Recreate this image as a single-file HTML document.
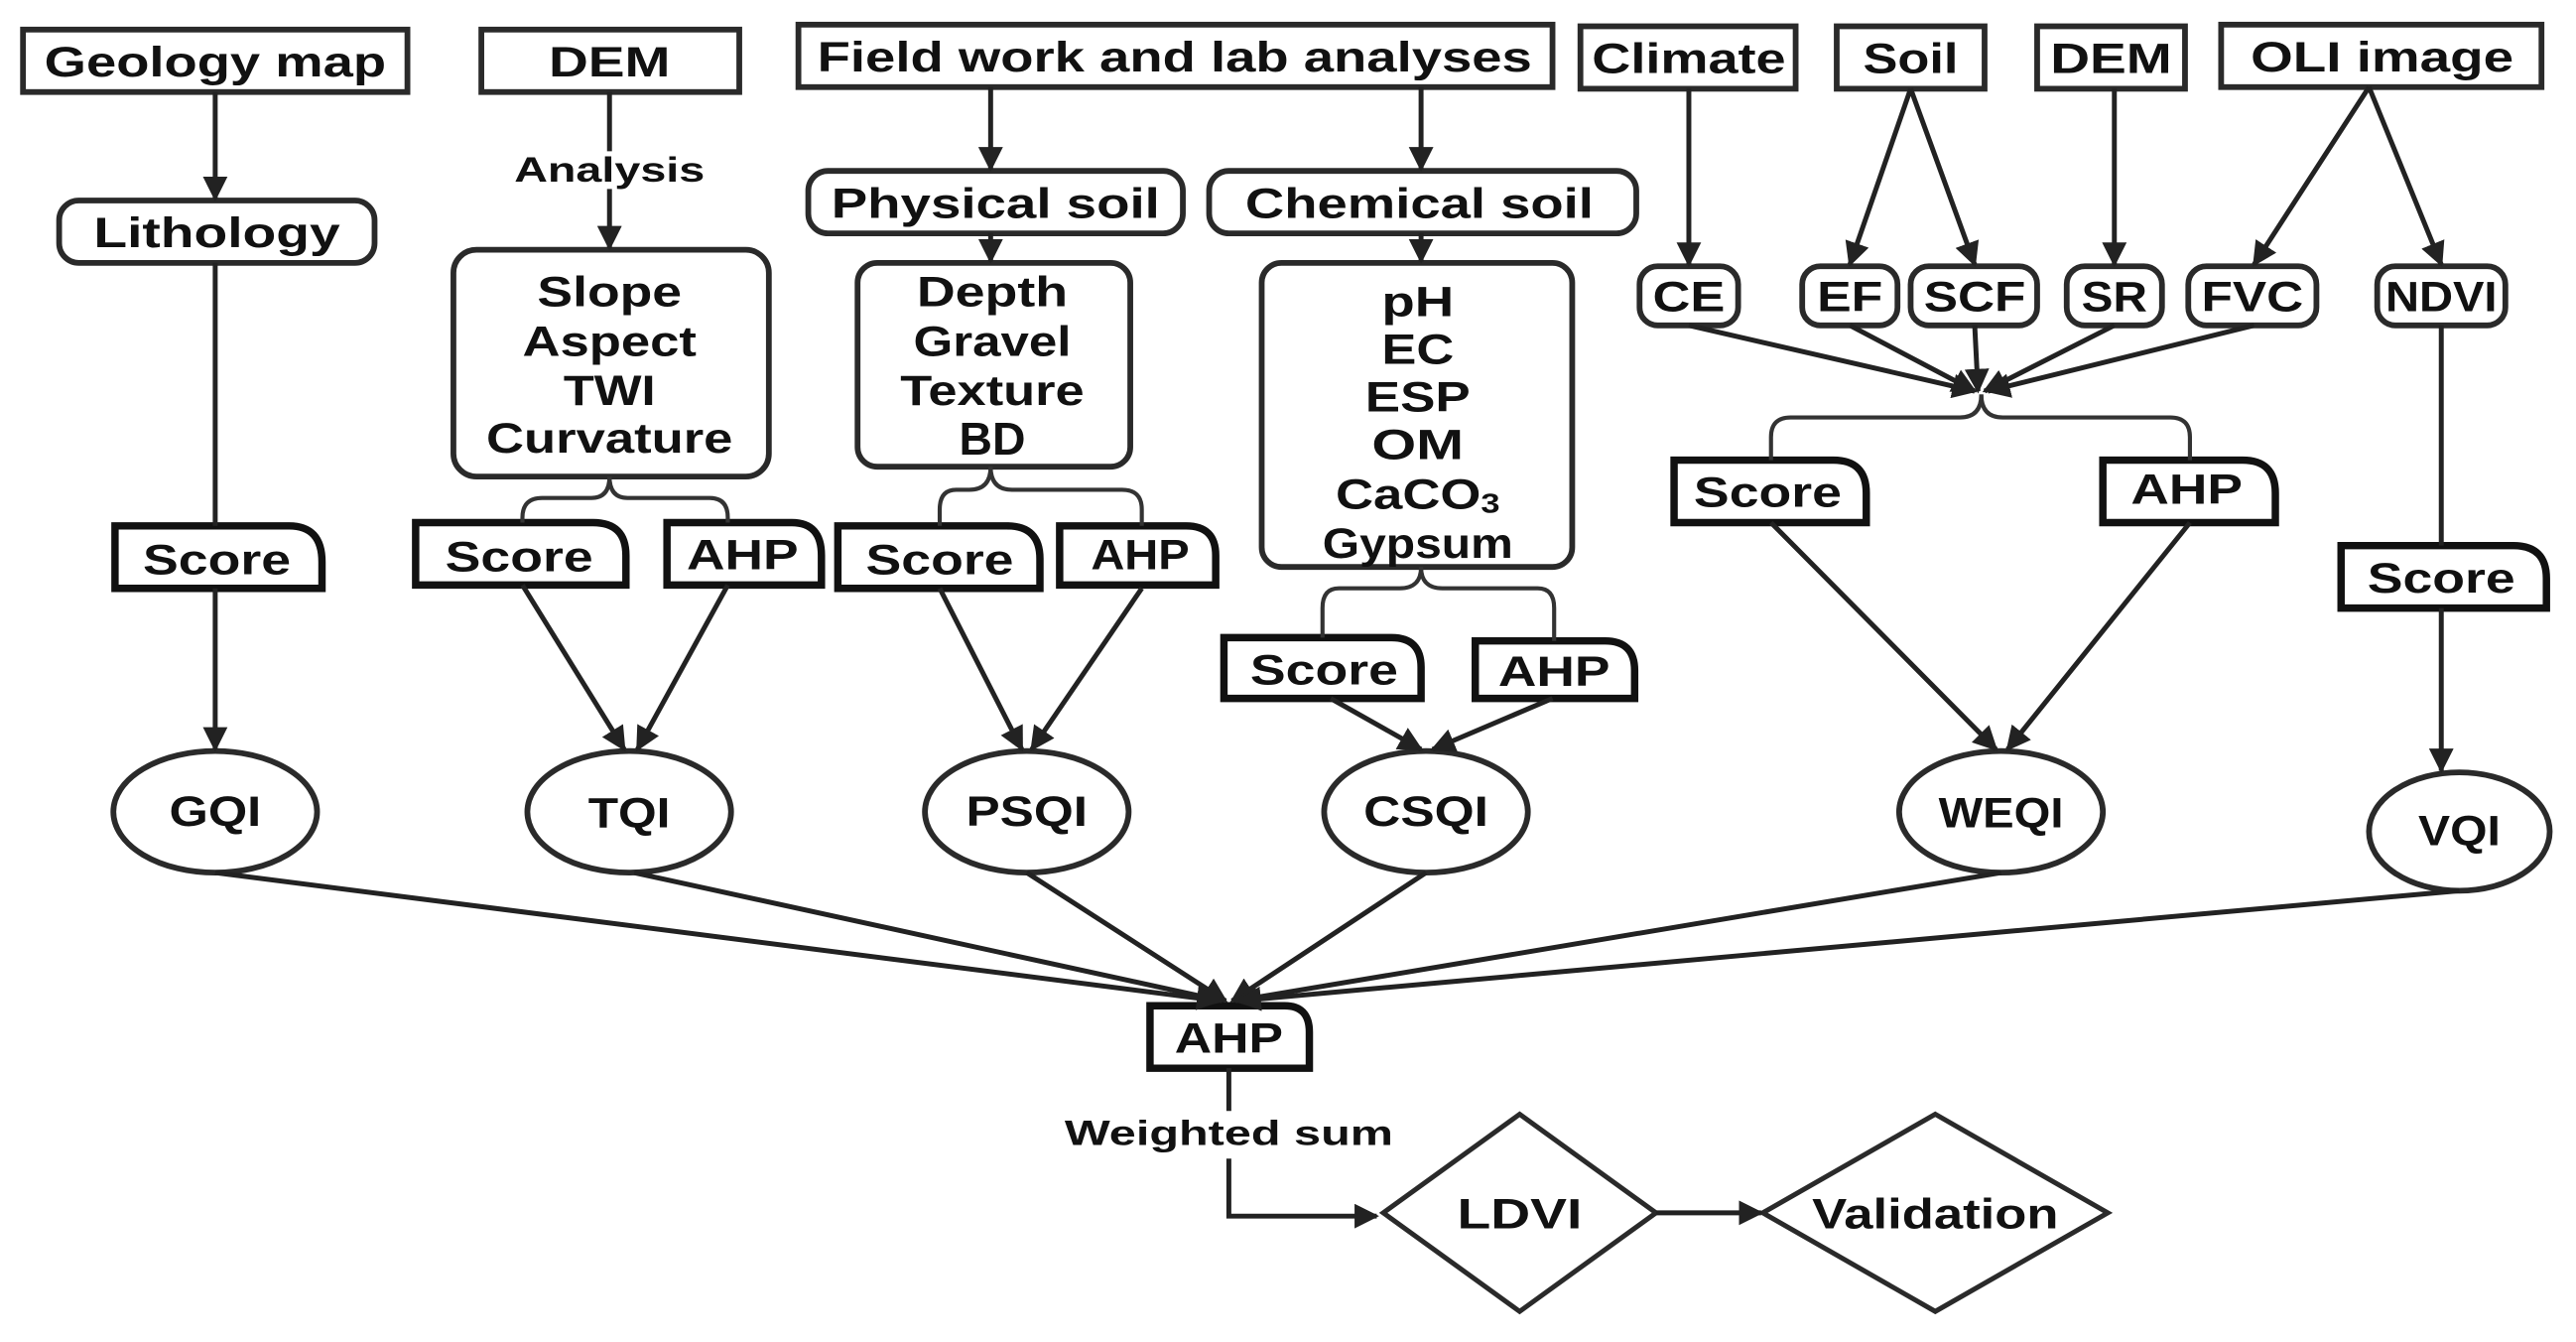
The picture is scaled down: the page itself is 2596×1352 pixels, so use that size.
<!DOCTYPE html>
<html><head><meta charset="utf-8"><style>
html,body{margin:0;padding:0;background:#fff;}
svg{display:block;}
text{font-family:"Liberation Sans",Arial,sans-serif;font-weight:bold;fill:#111;text-anchor:middle;dominant-baseline:central;}
</style></head><body>
<svg width="2596" height="1352" viewBox="0 0 1568 816.6" preserveAspectRatio="none" xmlns="http://www.w3.org/2000/svg">
<defs>
<marker id="a" viewBox="0 0 10 10" refX="9" refY="5" markerWidth="5" markerHeight="5" orient="auto" markerUnits="strokeWidth"><path d="M0,0L10,5L0,10z" fill="#222"/></marker>
</defs>
<g fill="none" stroke="#2a2a2a" stroke-width="3.5">
<rect x="14" y="18" width="234" height="38"/>
<rect x="293" y="18" width="157" height="38"/>
<rect x="486" y="15" width="459" height="38"/>
<rect x="962" y="16" width="131" height="38"/>
<rect x="1118" y="16" width="90" height="38"/>
<rect x="1240" y="16" width="90" height="38"/>
<rect x="1352" y="15" width="195" height="38"/>
<rect x="36" y="122" width="192" height="38" rx="12"/>
<rect x="276" y="152" width="192" height="138" rx="14"/>
<rect x="492" y="104" width="228" height="38" rx="12"/>
<rect x="736" y="104" width="260" height="38" rx="12"/>
<rect x="522" y="160" width="166" height="124" rx="12"/>
<rect x="768" y="160" width="189" height="185" rx="12"/>
<rect x="998" y="162" width="60" height="36" rx="11"/>
<rect x="1097" y="162" width="58" height="36" rx="11"/>
<rect x="1163" y="162" width="77" height="36" rx="11"/>
<rect x="1258" y="162" width="58" height="36" rx="11"/>
<rect x="1332" y="162" width="78" height="36" rx="11"/>
<rect x="1447" y="162" width="78" height="36" rx="11"/>
<ellipse cx="131" cy="494" rx="62" ry="37"/>
<ellipse cx="383" cy="494" rx="62" ry="37"/>
<ellipse cx="625" cy="494" rx="62" ry="37"/>
<ellipse cx="868" cy="494" rx="62" ry="37"/>
<ellipse cx="1218" cy="494" rx="62" ry="37"/>
<ellipse cx="1497" cy="506" rx="55" ry="36"/>
<path d="M925,678L1008,738L925,798L842,738Z" stroke-width="3"/>
<path d="M1178,678L1283,738L1178,798L1073,738Z" stroke-width="3"/>
</g>
<g fill="#fff" stroke="#111" stroke-width="4.5">
<path d="M70,320H176Q196,320 196,342V358H70Z"/>
<path d="M253,318H361Q381,318 381,338V356H253Z"/>
<path d="M406,318H482Q500,318 500,338V356H406Z"/>
<path d="M510,320H613Q633,320 633,340V358H510Z"/>
<path d="M645,320H722Q740,320 740,338V356H645Z"/>
<path d="M745,388H847Q865,388 865,406V425H745Z"/>
<path d="M898,390H977Q995,390 995,408V425H898Z"/>
<path d="M1019,280H1116Q1136,280 1136,300V318H1019Z"/>
<path d="M1280,280H1365Q1385,280 1385,300V318H1280Z"/>
<path d="M1425,332H1530Q1550,332 1550,352V370H1425Z"/>
<path d="M700,612H782Q797,612 797,628V650H700Z"/>
</g>
<g fill="none" stroke="#222" stroke-width="3" marker-end="url(#a)">
<line x1="131" y1="56" x2="131" y2="121"/>
<line x1="371" y1="115" x2="371" y2="151"/>
<line x1="603" y1="53" x2="603" y2="103"/>
<line x1="865" y1="53" x2="865" y2="103"/>
<line x1="603" y1="142" x2="603" y2="159"/>
<line x1="865" y1="142" x2="865" y2="159"/>
<line x1="1028" y1="54" x2="1028" y2="161"/>
<line x1="1163" y1="54" x2="1126" y2="161"/>
<line x1="1163" y1="54" x2="1202" y2="161"/>
<line x1="1287" y1="54" x2="1287" y2="161"/>
<line x1="1442" y1="53" x2="1372" y2="161"/>
<line x1="1442" y1="53" x2="1486" y2="161"/>
<line x1="1028" y1="198" x2="1202" y2="238"/>
<line x1="1126" y1="198" x2="1202" y2="238"/>
<line x1="1202" y1="198" x2="1204" y2="238"/>
<line x1="1287" y1="198" x2="1208" y2="238"/>
<line x1="1372" y1="198" x2="1210" y2="238"/>
<line x1="131" y1="358" x2="131" y2="456"/>
<line x1="318" y1="356" x2="380" y2="456"/>
<line x1="443" y1="356" x2="388" y2="456"/>
<line x1="572" y1="358" x2="622" y2="456"/>
<line x1="695" y1="358" x2="628" y2="456"/>
<line x1="810" y1="425" x2="865" y2="456"/>
<line x1="945" y1="425" x2="872" y2="456"/>
<line x1="1078" y1="318" x2="1215" y2="456"/>
<line x1="1333" y1="318" x2="1222" y2="456"/>
<line x1="1486" y1="370" x2="1486" y2="469"/>
<line x1="131" y1="531" x2="742" y2="609"/>
<line x1="386" y1="531" x2="744" y2="609"/>
<line x1="625" y1="531" x2="746" y2="609"/>
<line x1="868" y1="531" x2="750" y2="609"/>
<line x1="1218" y1="531" x2="752" y2="609"/>
<line x1="1497" y1="542" x2="754" y2="609"/>
<polyline points="748,705 748,740 838,740"/>
<line x1="1008" y1="738" x2="1072" y2="738"/>
</g>
<g fill="none" stroke="#222" stroke-width="3">
<line x1="371" y1="56" x2="371" y2="92"/>
<line x1="131" y1="160" x2="131" y2="320"/>
<line x1="1486" y1="198" x2="1486" y2="332"/>
<line x1="748" y1="650" x2="748" y2="676"/>
</g>
<g fill="none" stroke="#333" stroke-width="2.5">
<path d="M371,290Q371,303 360,303H330Q318,303 318,315V318"/>
<path d="M371,290Q371,303 382,303H432Q443,303 443,315V318"/>
<path d="M603,284Q603,298 590,298H582Q572,298 572,310V320"/>
<path d="M603,284Q603,298 616,298H683Q695,298 695,310V320"/>
<path d="M865,345Q865,358 852,358H815Q805,358 805,370V388"/>
<path d="M865,345Q865,358 878,358H936Q946,358 946,370V390"/>
<path d="M1206,240Q1206,254 1193,254H1090Q1078,254 1078,266V280"/>
<path d="M1206,240Q1206,254 1219,254H1321Q1333,254 1333,266V280"/>
</g>
<g font-size="26">
<text x="131" y="38" textLength="208" lengthAdjust="spacingAndGlyphs">Geology map</text>
<text x="371" y="38" textLength="74" lengthAdjust="spacingAndGlyphs">DEM</text>
<text x="715" y="35" textLength="435" lengthAdjust="spacingAndGlyphs">Field work and lab analyses</text>
<text x="1028" y="36" textLength="118" lengthAdjust="spacingAndGlyphs">Climate</text>
<text x="1163" y="36" textLength="58" lengthAdjust="spacingAndGlyphs">Soil</text>
<text x="1285" y="36" textLength="74" lengthAdjust="spacingAndGlyphs">DEM</text>
<text x="1450" y="35" textLength="160" lengthAdjust="spacingAndGlyphs">OLI image</text>
<text x="132" y="142" textLength="150" lengthAdjust="spacingAndGlyphs">Lithology</text>
<text x="606" y="124" textLength="200" lengthAdjust="spacingAndGlyphs">Physical soil</text>
<text x="864" y="124" textLength="212" lengthAdjust="spacingAndGlyphs">Chemical soil</text>
<text x="371" y="178" textLength="88" lengthAdjust="spacingAndGlyphs">Slope</text>
<text x="371" y="208" textLength="106" lengthAdjust="spacingAndGlyphs">Aspect</text>
<text x="371" y="238" textLength="56" lengthAdjust="spacingAndGlyphs">TWI</text>
<text x="371" y="267" textLength="150" lengthAdjust="spacingAndGlyphs">Curvature</text>
<text x="604" y="178" textLength="92" lengthAdjust="spacingAndGlyphs">Depth</text>
<text x="604" y="208" textLength="96" lengthAdjust="spacingAndGlyphs">Gravel</text>
<text x="604" y="238" textLength="112" lengthAdjust="spacingAndGlyphs">Texture</text>
<text x="604" y="267" font-size="28">BD</text>
<text x="863" y="184" textLength="44" lengthAdjust="spacingAndGlyphs">pH</text>
<text x="863" y="213" textLength="44" lengthAdjust="spacingAndGlyphs">EC</text>
<text x="863" y="242" textLength="64" lengthAdjust="spacingAndGlyphs">ESP</text>
<text x="863" y="271" textLength="56" lengthAdjust="spacingAndGlyphs">OM</text>
<text x="863" y="301" textLength="100" lengthAdjust="spacingAndGlyphs">CaCO<tspan font-size="17" dy="5">3</tspan></text>
<text x="863" y="331" textLength="116" lengthAdjust="spacingAndGlyphs">Gypsum</text>
<text x="1028" y="181" textLength="44" lengthAdjust="spacingAndGlyphs">CE</text>
<text x="1126" y="181" textLength="40" lengthAdjust="spacingAndGlyphs">EF</text>
<text x="1202" y="181" textLength="62" lengthAdjust="spacingAndGlyphs">SCF</text>
<text x="1287" y="181" textLength="40" lengthAdjust="spacingAndGlyphs">SR</text>
<text x="1371" y="181" textLength="62" lengthAdjust="spacingAndGlyphs">FVC</text>
<text x="1486" y="181" textLength="68" lengthAdjust="spacingAndGlyphs">NDVI</text>
<text x="132" y="341" textLength="90" lengthAdjust="spacingAndGlyphs">Score</text>
<text x="316" y="339" textLength="90" lengthAdjust="spacingAndGlyphs">Score</text>
<text x="452" y="338" textLength="68" lengthAdjust="spacingAndGlyphs">AHP</text>
<text x="572" y="341" textLength="90" lengthAdjust="spacingAndGlyphs">Score</text>
<text x="694" y="338" textLength="60" lengthAdjust="spacingAndGlyphs">AHP</text>
<text x="806" y="408" textLength="90" lengthAdjust="spacingAndGlyphs">Score</text>
<text x="946" y="409" textLength="68" lengthAdjust="spacingAndGlyphs">AHP</text>
<text x="1076" y="300" textLength="90" lengthAdjust="spacingAndGlyphs">Score</text>
<text x="1331" y="298" textLength="68" lengthAdjust="spacingAndGlyphs">AHP</text>
<text x="1486" y="352" textLength="90" lengthAdjust="spacingAndGlyphs">Score</text>
<text x="748" y="632" textLength="66" lengthAdjust="spacingAndGlyphs">AHP</text>
<text x="131" y="494" textLength="56" lengthAdjust="spacingAndGlyphs">GQI</text>
<text x="383" y="495" textLength="50" lengthAdjust="spacingAndGlyphs">TQI</text>
<text x="625" y="494" textLength="74" lengthAdjust="spacingAndGlyphs">PSQI</text>
<text x="868" y="494" textLength="76" lengthAdjust="spacingAndGlyphs">CSQI</text>
<text x="1218" y="495" textLength="76" lengthAdjust="spacingAndGlyphs">WEQI</text>
<text x="1497" y="506" textLength="50" lengthAdjust="spacingAndGlyphs">VQI</text>
<text x="925" y="739" textLength="76" lengthAdjust="spacingAndGlyphs">LDVI</text>
<text x="1178" y="739" textLength="150" lengthAdjust="spacingAndGlyphs">Validation</text>
</g>
<g font-size="21">
<text x="371" y="104" textLength="116" lengthAdjust="spacingAndGlyphs">Analysis</text>
<text x="748" y="690" textLength="200" lengthAdjust="spacingAndGlyphs">Weighted sum</text>
</g>
</svg>
</body></html>
